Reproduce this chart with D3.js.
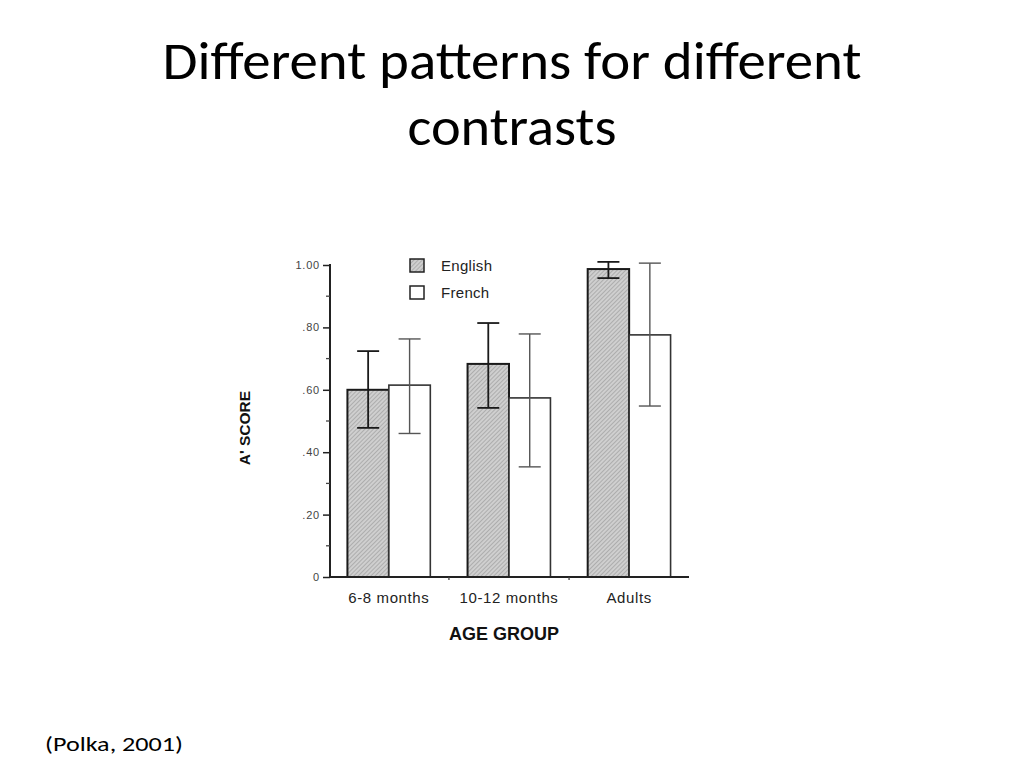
<!DOCTYPE html>
<html>
<head>
<meta charset="utf-8">
<script src="https://cdn.jsdelivr.net/npm/d3@7"></script>
<style>
  body { margin: 0; background: #fff; }
  svg { display: block; }
</style>
</head>
<body>
<script>
'use strict';

const groups = ['6-8 months', '10-12 months', 'Adults'];
const languages = ['English', 'French'];
const englishScores = [0.60, 0.683, 0.987];
const englishLow = [0.478, 0.542, 0.958];
const englishHigh = [0.724, 0.814, 1.01];
const frenchScores = [0.615, 0.574, 0.776];
const frenchLow = [0.46, 0.353, 0.548];
const frenchHigh = [0.763, 0.779, 1.006];
const majorTicks = [0, 0.2, 0.4, 0.6, 0.8, 1.0];
const minorTicks = [0.1, 0.3, 0.5, 0.7, 0.9];
const tickLabels = ['0', '.20', '.40', '.60', '.80', '1.00'];

const width = 1024;
const height = 768;

const svg = d3.select('body').append('svg')
  .attr('width', width)
  .attr('height', height);

// hatch for English bars
const defs = svg.append('defs');
const hatch = defs.append('pattern')
  .attr('id', 'hatch')
  .attr('patternUnits', 'userSpaceOnUse')
  .attr('width', 3)
  .attr('height', 3)
  .attr('patternTransform', 'rotate(45)');
hatch.append('rect').attr('width', 3).attr('height', 3).attr('fill', '#cfcfcf');
hatch.append('line')
  .attr('x1', 0).attr('y1', 0).attr('x2', 0).attr('y2', 3)
  .attr('stroke', '#8c8c8c').attr('stroke-width', 1);

// title
const slideFont = 'Carlito, Lato, "Open Sans", sans-serif';
const title = svg.append('g')
  .attr('font-family', slideFont)
  .attr('fill', '#000')
  .attr('text-anchor', 'middle');
title.append('text')
  .attr('x', 512).attr('y', 79)
  .attr('font-size', 54)
  .attr('textLength', 699)
  .attr('lengthAdjust', 'spacingAndGlyphs')
  .text('Different patterns for different');
title.append('text')
  .attr('x', 512).attr('y', 145)
  .attr('font-size', 54)
  .attr('textLength', 209)
  .attr('lengthAdjust', 'spacingAndGlyphs')
  .text('contrasts');

svg.append('text')
  .attr('x', 45).attr('y', 751)
  .attr('font-family', slideFont)
  .attr('font-size', 20)
  .attr('textLength', 138)
  .attr('lengthAdjust', 'spacingAndGlyphs')
  .text('(Polka, 2001)');

// chart
const x = d3.scaleBand().domain(groups).range([330, 688])
  .paddingInner(0.31).paddingOuter(0.145);
const xs = d3.scaleBand().domain(languages).range([0, x.bandwidth()]);
const y = d3.scaleLinear().domain([0, 1]).range([577, 265]);

const chart = svg.append('g')
  .attr('font-family', 'Arial, "Liberation Sans", Helvetica, sans-serif');

const bars = groups.map(function(g, i) {
  return [
    { group: g, lang: 'English', v: englishScores[i], lo: englishLow[i], hi: englishHigh[i] },
    { group: g, lang: 'French', v: frenchScores[i], lo: frenchLow[i], hi: frenchHigh[i] }
  ];
}).flat();

chart.selectAll('rect.bar')
  .data(bars)
  .enter().append('rect')
  .attr('class', 'bar')
  .attr('x', function(d) { return x(d.group) + xs(d.lang); })
  .attr('y', function(d) { return y(d.v); })
  .attr('width', xs.bandwidth())
  .attr('height', function(d) { return y(0) - y(d.v); })
  .attr('fill', function(d) { return d.lang === 'English' ? 'url(#hatch)' : '#fff'; })
  .attr('stroke', function(d) { return d.lang === 'English' ? '#1a1a1a' : '#333'; })
  .attr('stroke-width', function(d) { return d.lang === 'English' ? 2 : 1.6; });

// error bars
const err = chart.selectAll('g.err')
  .data(bars)
  .enter().append('g')
  .attr('class', 'err')
  .attr('stroke', function(d) { return d.lang === 'English' ? '#1a1a1a' : '#555'; })
  .attr('stroke-width', function(d) { return d.lang === 'English' ? 1.8 : 1.4; })
  .attr('transform', function(d) {
    return 'translate(' + (x(d.group) + xs(d.lang) + xs.bandwidth() / 2) + ',0)';
  });
err.append('line')
  .attr('x1', 0).attr('x2', 0)
  .attr('y1', function(d) { return y(d.hi); })
  .attr('y2', function(d) { return y(d.lo); });
err.append('line')
  .attr('x1', -11).attr('x2', 11)
  .attr('y1', function(d) { return y(d.hi); })
  .attr('y2', function(d) { return y(d.hi); });
err.append('line')
  .attr('x1', -11).attr('x2', 11)
  .attr('y1', function(d) { return y(d.lo); })
  .attr('y2', function(d) { return y(d.lo); });

// y axis
const yAxis = chart.append('g')
  .attr('transform', 'translate(330,0)')
  .call(d3.axisLeft(y).tickValues(majorTicks).tickSize(7).tickPadding(3)
    .tickFormat(function(d, i) { return tickLabels[i]; }));
yAxis.select('.domain').attr('stroke', '#222').attr('stroke-width', 2).attr('d', 'M0,' + y(0) + 'V' + (y(1) - 1));
yAxis.selectAll('.tick line').attr('stroke', '#222').attr('stroke-width', 1.5);
yAxis.selectAll('.tick text')
  .attr('font-size', 11)
  .attr('letter-spacing', 0.8)
  .attr('fill', '#444');
chart.append('g')
  .selectAll('line')
  .data(minorTicks)
  .enter().append('line')
  .attr('x1', 326).attr('x2', 330)
  .attr('y1', function(d) { return y(d); })
  .attr('y2', function(d) { return y(d); })
  .attr('stroke', '#444').attr('stroke-width', 1.3);

// x axis
chart.append('line')
  .attr('x1', 330).attr('x2', 689)
  .attr('y1', y(0)).attr('y2', y(0))
  .attr('stroke', '#222').attr('stroke-width', 2);
chart.append('g')
  .selectAll('line')
  .data(groups.slice(1))
  .enter().append('line')
  .attr('x1', function(d) { return x(d) - x.step() * x.paddingInner() / 2; })
  .attr('x2', function(d) { return x(d) - x.step() * x.paddingInner() / 2; })
  .attr('y1', y(0)).attr('y2', y(0) + 3)
  .attr('stroke', '#444').attr('stroke-width', 1.3);

chart.append('g')
  .selectAll('text')
  .data(groups)
  .enter().append('text')
  .attr('x', function(d) { return x(d) + x.bandwidth() / 2; })
  .attr('y', 603)
  .attr('text-anchor', 'middle')
  .attr('font-size', 15)
  .attr('letter-spacing', 0.6)
  .attr('fill', '#222')
  .text(function(d) { return d; });

chart.append('text')
  .attr('x', 504).attr('y', 640)
  .attr('text-anchor', 'middle')
  .attr('font-size', 18)
  .attr('font-weight', 'bold')
  .attr('fill', '#111')
  .text('AGE GROUP');

chart.append('text')
  .attr('transform', 'translate(250,428) rotate(-90)')
  .attr('text-anchor', 'middle')
  .attr('font-size', 15.5)
  .attr('font-weight', 'bold')
  .attr('fill', '#111')
  .text('A\' SCORE');

// legend
const legend = chart.append('g')
  .selectAll('g')
  .data(languages)
  .enter().append('g')
  .attr('transform', function(d, i) { return 'translate(410,' + (259 + i * 27) + ')'; });
legend.append('rect')
  .attr('width', 14).attr('height', 13)
  .attr('fill', function(d) { return d === 'English' ? 'url(#hatch)' : '#fff'; })
  .attr('stroke', '#222').attr('stroke-width', 1.5);
legend.append('text')
  .attr('x', 31).attr('y', 12)
  .attr('font-size', 15)
  .attr('letter-spacing', 0.3)
  .attr('fill', '#222')
  .text(function(d) { return d; });
</script>
</body>
</html>
